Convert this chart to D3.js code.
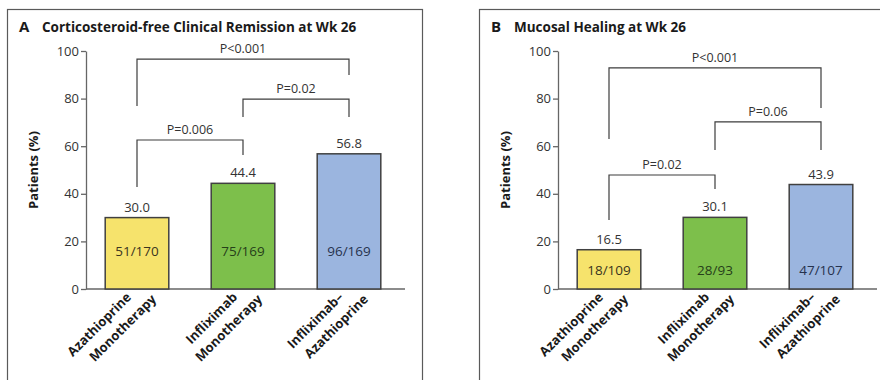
<!DOCTYPE html>
<html>
<head>
<meta charset="utf-8">
<script src="https://cdn.jsdelivr.net/npm/d3@7"></script>
<style>
  html, body { margin: 0; padding: 0; background: #fff; }
  svg { display: block; font-family: "Open Sans", "DejaVu Sans", sans-serif; }
</style>
</head>
<body>
<div id="chart"></div>
<script>
// Treatment groups (two-line x labels)
const groupKeys = ["aza", "ifx", "combo"];
const groupLabels = [
  ["Azathioprine", "Monotherapy"],
  ["Infliximab", "Monotherapy"],
  ["Infliximab\u2013", "Azathioprine"],
];
const groupColors = ["#f6e36c", "#7dbf4b", "#9bb5df"];
const countColors = ["#3a3520", "#26401a", "#26324d"];

const yTicks = [0, 20, 40, 60, 80, 100];

// Panel A: corticosteroid-free clinical remission
const remissionPct = [30.0, 44.4, 56.8];
const remissionCounts = ["51/170", "75/169", "96/169"];
// comparisons: [from, to], p label, bracket top / leg ends in % units
const remissionTests = [
  { pair: [0, 2], p: "P<0.001", top: 96.6, ends: [76.9, 89.9] },
  { pair: [1, 2], p: "P=0.02", top: 79.8, ends: [72.3, 72.3] },
  { pair: [0, 1], p: "P=0.006", top: 62.6, ends: [42.9, 56.3] },
];

// Panel B: mucosal healing
const healingPct = [16.5, 30.1, 43.9];
const healingCounts = ["18/109", "28/93", "47/107"];
const healingTests = [
  { pair: [0, 2], p: "P<0.001", top: 92.9, ends: [63.0, 76.1] },
  { pair: [1, 2], p: "P=0.06", top: 70.2, ends: [58.4, 58.4] },
  { pair: [0, 1], p: "P=0.02", top: 47.9, ends: [29.0, 42.0] },
];

const width = 880;
const height = 380;

const svg = d3
  .select("#chart")
  .append("svg")
  .attr("width", width)
  .attr("height", height)
  .attr("viewBox", [0, 0, width, height]);

const x = d3
  .scaleBand()
  .domain(groupKeys)
  .range([84, 402])
  .paddingInner(0.4)
  .paddingOuter(0.2);

const y = d3.scaleLinear().domain([0, 100]).range([289, 51]);

function drawPanel(offset, letter, title, pct, counts, countLevel, tests) {
  const g = svg.append("g").attr("transform", `translate(${offset},0)`);

  g.append("rect")
    .attr("x", 7.5)
    .attr("y", 9.5)
    .attr("width", 415)
    .attr("height", 400)
    .attr("fill", "none")
    .attr("stroke", "#5a5a5a")
    .attr("stroke-width", 1.2);

  g.append("text")
    .attr("x", 19)
    .attr("y", 32)
    .attr("font-size", 15)
    .attr("font-weight", 700)
    .attr("fill", "#1a1a1a")
    .text(letter);

  g.append("text")
    .attr("x", 42)
    .attr("y", 32)
    .attr("font-size", 13.5)
    .attr("font-weight", 700)
    .attr("fill", "#1a1a1a")
    .text(title);

  // y axis
  g.append("g")
    .attr("transform", "translate(86,0)")
    .call(d3.axisLeft(y).tickValues(yTicks).tickSize(5).tickSizeOuter(0).tickPadding(2))
    .call((a) => a.selectAll("path, line").attr("stroke", "#666").attr("stroke-width", 1.3))
    .call((a) =>
      a.selectAll("text")
        .attr("font-family", "'Open Sans', sans-serif")
        .attr("font-size", 13)
        .attr("fill", "#333")
    );

  g.append("text")
    .attr("transform", `translate(38,${y(50)}) rotate(-90)`)
    .attr("text-anchor", "middle")
    .attr("font-size", 13)
    .attr("font-weight", 700)
    .attr("fill", "#1a1a1a")
    .text("Patients (%)");

  // baseline
  g.append("line")
    .attr("x1", 86)
    .attr("x2", 405)
    .attr("y1", y(0))
    .attr("y2", y(0))
    .attr("stroke", "#666")
    .attr("stroke-width", 1.3);

  // bars
  g.selectAll("rect.bar")
    .data(groupKeys)
    .join("rect")
    .attr("class", "bar")
    .attr("x", (d) => x(d))
    .attr("y", (d, i) => y(pct[i]))
    .attr("width", x.bandwidth())
    .attr("height", (d, i) => y(0) - y(pct[i]))
    .attr("fill", (d, i) => groupColors[i])
    .attr("stroke", "#404040")
    .attr("stroke-width", 1.5);

  // value labels above bars
  g.selectAll("text.value")
    .data(groupKeys)
    .join("text")
    .attr("class", "value")
    .attr("x", (d) => x(d) + x.bandwidth() / 2)
    .attr("y", (d, i) => y(pct[i]) - 6)
    .attr("text-anchor", "middle")
    .attr("font-size", 13)
    .attr("fill", "#333")
    .text((d, i) => pct[i].toFixed(1));

  // n/N inside bars
  g.selectAll("text.count")
    .data(groupKeys)
    .join("text")
    .attr("class", "count")
    .attr("x", (d) => x(d) + x.bandwidth() / 2)
    .attr("y", y(countLevel))
    .attr("dy", "0.35em")
    .attr("text-anchor", "middle")
    .attr("font-size", 13.5)
    .attr("fill", (d, i) => countColors[i])
    .text((d, i) => counts[i]);

  // x labels, rotated
  groupKeys.forEach((k, i) => {
    const cx = x(k) + x.bandwidth() / 2;
    [[-5, 298], [20, 300]].forEach(([dx, yy], j) => {
      g.append("text")
        .attr("transform", `translate(${cx + dx},${yy}) rotate(-45)`)
        .attr("text-anchor", "end")
        .attr("font-size", 13)
        .attr("font-weight", 700)
        .attr("fill", "#1a1a1a")
        .text(groupLabels[i][j]);
    });
  });

  // significance brackets
  tests.forEach((t) => {
    const x0 = x(groupKeys[t.pair[0]]) + x.bandwidth() / 2;
    const x1 = x(groupKeys[t.pair[1]]) + x.bandwidth() / 2;
    const path = d3.path();
    path.moveTo(x0, y(t.ends[0]));
    path.lineTo(x0, y(t.top));
    path.lineTo(x1, y(t.top));
    path.lineTo(x1, y(t.ends[1]));
    g.append("path")
      .attr("d", path.toString())
      .attr("fill", "none")
      .attr("stroke", "#3d3d3d")
      .attr("stroke-width", 1.2);
    g.append("text")
      .attr("x", (x0 + x1) / 2)
      .attr("y", y(t.top) - 6)
      .attr("text-anchor", "middle")
      .attr("font-size", 12.5)
      .attr("fill", "#333")
      .text(t.p);
  });
}

drawPanel(0, "A", "Corticosteroid-free Clinical Remission at Wk 26",
  remissionPct, remissionCounts, 16, remissionTests);
drawPanel(472, "B", "Mucosal Healing at Wk 26",
  healingPct, healingCounts, 8, healingTests);
</script>
</body>
</html>
